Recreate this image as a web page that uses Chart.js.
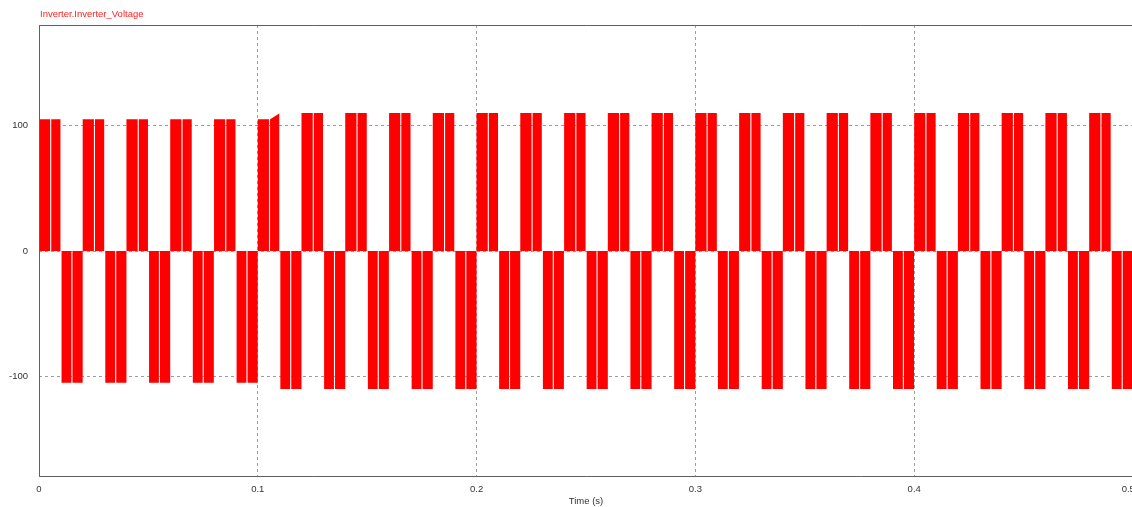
<!DOCTYPE html>
<html>
<head>
<meta charset="utf-8">
<title>Inverter.Inverter_Voltage</title>
<script src="https://cdn.jsdelivr.net/npm/chart.js@4/dist/chart.umd.min.js"></script>
<style>
  html, body { margin: 0; padding: 0; overflow: hidden; background: #ffffff; }
  #wrap { position: absolute; left: 0; top: 0; width: 1133px; height: 507px; }
</style>
</head>
<body>
<div id="wrap"><canvas id="scope"></canvas></div>
<script>
// Start time of each 50 Hz cycle (s)
const cycleStart = [0, 0.02, 0.04, 0.06, 0.08, 0.10, 0.12, 0.14, 0.16, 0.18,
                    0.20, 0.22, 0.24, 0.26, 0.28, 0.30, 0.32, 0.34, 0.36, 0.38,
                    0.40, 0.42, 0.44, 0.46, 0.48];
// Positive pulse level before the notch (V)
const posFront = [105, 105, 105, 105, 105, 105, 110, 110, 110, 110,
                  110, 110, 110, 110, 110, 110, 110, 110, 110, 110,
                  110, 110, 110, 110, 110];
// Positive pulse level at the falling edge (V)
const posBack  = [105, 105, 105, 105, 105, 109.5, 110, 110, 110, 110,
                  110, 110, 110, 110, 110, 110, 110, 110, 110, 110,
                  110, 110, 110, 110, 110];
// Negative pulse level (V)
const negLevel = [-105, -105, -105, -105, -105, -110, -110, -110, -110, -110,
                  -110, -110, -110, -110, -110, -110, -110, -110, -110, -110,
                  -110, -110, -110, -110, -110];
// Edge times inside a cycle: rise, notch start, notch end, fall (s)
const posEdges = [0.0000, 0.0051, 0.0056, 0.0098];
const negEdges = [0.0103, 0.0148, 0.0153, 0.0199];

// Axis ticks
const xTicks = [0, 0.1, 0.2, 0.3, 0.4, 0.5];
const xTickLabels = ['0', '0.1', '0.2', '0.3', '0.4', '0.5\u2002\u2002'];
const yTicks = [-100, 0, 100];
const yTickLabels = ['-100', '0', '100'];

const TITLE = 'Inverter.Inverter_Voltage';
const FONT = { family: '"Liberation Sans", Arial, sans-serif', size: 9.5 };

// Trace of one notched pulse: level a up to the notch, then a -> b to the falling edge
function pulse(t0, e, a, b) {
  return [
    { x: t0 + e[0], y: 0 }, { x: t0 + e[0], y: a },
    { x: t0 + e[1], y: a }, { x: t0 + e[1], y: 0 },
    { x: t0 + e[2], y: 0 }, { x: t0 + e[2], y: a },
    { x: t0 + e[3], y: b }, { x: t0 + e[3], y: 0 }
  ];
}

const trace = [];
cycleStart.forEach((t0, i) => {
  trace.push(...pulse(t0, posEdges, posFront[i], posBack[i]));
  trace.push(...pulse(t0, negEdges, negLevel[i], negLevel[i]));
});

const framePlugin = {
  id: 'frame',
  afterDraw(chart) {
    const { ctx, chartArea: a } = chart;
    ctx.save();
    ctx.strokeStyle = '#606060';
    ctx.lineWidth = 1;
    ctx.beginPath();
    ctx.moveTo(a.right + 2, a.top + 0.5);
    ctx.lineTo(a.left + 0.5, a.top + 0.5);
    ctx.lineTo(a.left + 0.5, a.bottom - 0.5);
    ctx.lineTo(a.right + 2, a.bottom - 0.5);
    ctx.stroke();
    ctx.fillStyle = '#ff2020';
    ctx.font = '9.5px ' + FONT.family;
    ctx.textAlign = 'left';
    ctx.textBaseline = 'middle';
    ctx.fillText(TITLE, a.left + 1, 14);
    ctx.restore();
  }
};

new Chart(document.getElementById('scope'), {
  type: 'line',
  data: {
    datasets: [{
      label: TITLE,
      data: trace,
      fill: 'origin',
      backgroundColor: '#ff0000',
      borderColor: 'rgba(0,0,0,0)',
      borderWidth: 0,
      pointRadius: 0,
      tension: 0
    }]
  },
  options: {
    responsive: true,
    maintainAspectRatio: false,
    animation: false,
    layout: { padding: { top: 25, left: 0, right: 0, bottom: 0 } },
    plugins: { legend: { display: false }, tooltip: { enabled: false } },
    scales: {
      x: {
        type: 'linear',
        min: 0,
        max: 0.5,
        afterBuildTicks: s => { s.ticks = xTicks.map(v => ({ value: v })); },
        afterFit: s => { s.paddingLeft = 0; s.paddingRight = 0; s.height = 30; },
        ticks: {
          autoSkip: false, maxRotation: 0, padding: 7,
          color: '#333333', font: FONT,
          callback: (v, i) => xTickLabels[i]
        },
        grid: { color: '#9c9c9c', lineWidth: 1, drawTicks: false },
        border: { display: false, dash: [3, 3] },
        title: { display: true, text: 'Time (s)', color: '#333333', font: FONT, padding: { top: 0, bottom: 0 } }
      },
      y: {
        type: 'linear',
        min: -180,
        max: 180,
        afterBuildTicks: s => { s.ticks = yTicks.map(v => ({ value: v })); },
        afterFit: s => { s.width = 39; s.paddingTop = 0; s.paddingBottom = 0; },
        ticks: {
          padding: 11, color: '#333333', font: FONT,
          callback: (v, i) => yTickLabels[i]
        },
        grid: { color: '#9c9c9c', lineWidth: 1, drawTicks: false },
        border: { display: false, dash: [3, 3] }
      }
    }
  },
  plugins: [framePlugin]
});
</script>
</body>
</html>
